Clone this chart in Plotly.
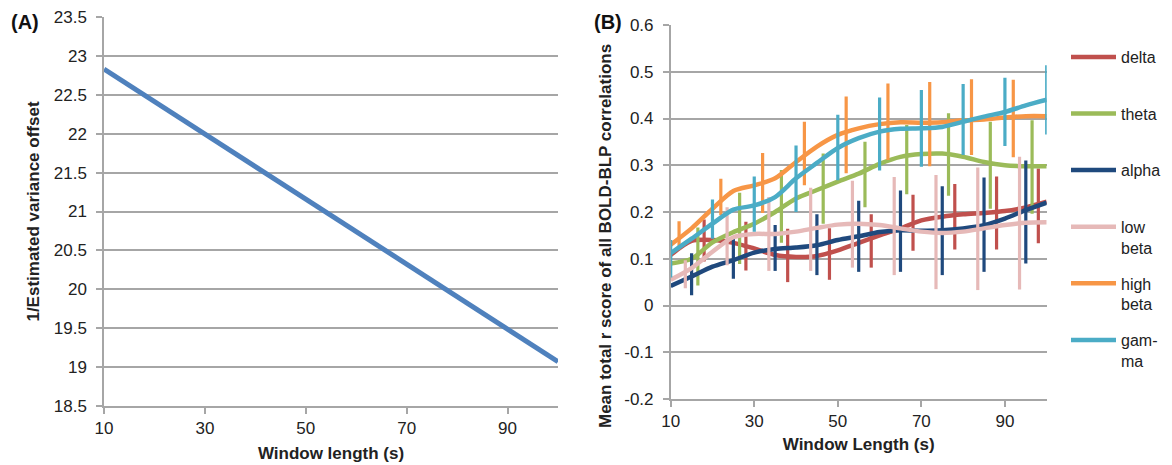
import plotly.graph_objects as go

# ---------------- Panel A data ----------------
a_window = [10, 100]
a_inv_offset = [22.83, 19.07]
a_yticks = [18.5, 19, 19.5, 20, 20.5, 21, 21.5, 22, 22.5, 23, 23.5]
a_yticklabels = ["18.5", "19", "19.5", "20", "20.5", "21", "21.5", "22", "22.5", "23", "23.5"]
x_ticks = [10, 30, 50, 70, 90]

# ---------------- Panel B data ----------------
b_window = [10, 15, 20, 25, 30, 35, 40, 45, 50, 55, 60, 65, 70, 75, 80, 85, 90, 95, 100]
delta = [0.108, 0.138, 0.140, 0.134, 0.122, 0.108, 0.104, 0.106, 0.118, 0.134, 0.150, 0.165, 0.182, 0.190, 0.195, 0.198, 0.202, 0.210, 0.222]
theta = [0.090, 0.100, 0.135, 0.157, 0.175, 0.200, 0.229, 0.247, 0.265, 0.282, 0.303, 0.318, 0.324, 0.325, 0.318, 0.307, 0.300, 0.298, 0.298]
alpha = [0.042, 0.062, 0.083, 0.097, 0.113, 0.121, 0.124, 0.129, 0.140, 0.148, 0.157, 0.161, 0.160, 0.161, 0.165, 0.172, 0.186, 0.204, 0.220]
low_beta = [0.055, 0.080, 0.115, 0.146, 0.153, 0.153, 0.158, 0.166, 0.173, 0.175, 0.172, 0.165, 0.158, 0.155, 0.158, 0.165, 0.172, 0.177, 0.178]
high_beta = [0.130, 0.165, 0.207, 0.245, 0.257, 0.272, 0.307, 0.340, 0.365, 0.379, 0.388, 0.392, 0.391, 0.392, 0.396, 0.398, 0.402, 0.405, 0.405]
gamma = [0.112, 0.143, 0.175, 0.205, 0.214, 0.232, 0.272, 0.305, 0.337, 0.358, 0.372, 0.378, 0.379, 0.382, 0.393, 0.404, 0.414, 0.428, 0.440]

# error bars (drawn at offset window positions)
delta_err_x = [18, 28, 38, 48, 58, 68, 78, 88, 98]
delta_err_c = [0.139, 0.127, 0.107, 0.110, 0.138, 0.177, 0.190, 0.198, 0.213]
delta_err = [0.045, 0.052, 0.057, 0.055, 0.057, 0.060, 0.070, 0.078, 0.080]

theta_err_x = [16.5, 26.5, 36.5, 46.5, 56.5, 66.5, 76.5, 86.5, 96.5]
theta_err_c = [0.105, 0.165, 0.212, 0.250, 0.280, 0.312, 0.323, 0.300, 0.296]
theta_err = [0.062, 0.076, 0.078, 0.075, 0.070, 0.074, 0.088, 0.093, 0.100]

alpha_err_x = [15, 25, 35, 45, 55, 65, 75, 85, 95]
alpha_err_c = [0.067, 0.100, 0.123, 0.130, 0.148, 0.159, 0.160, 0.173, 0.200]
alpha_err = [0.045, 0.043, 0.049, 0.065, 0.076, 0.087, 0.095, 0.101, 0.110]

low_beta_err_x = [13.5, 23.5, 33.5, 43.5, 53.5, 63.5, 73.5, 83.5, 93.5]
low_beta_err_c = [0.067, 0.148, 0.153, 0.163, 0.174, 0.170, 0.157, 0.164, 0.176]
low_beta_err = [0.030, 0.062, 0.079, 0.089, 0.093, 0.105, 0.122, 0.131, 0.142]

high_beta_err_x = [12, 22, 32, 42, 52, 62, 72, 82, 92, 102]
high_beta_err_c = [0.150, 0.232, 0.262, 0.325, 0.365, 0.393, 0.388, 0.403, 0.400, 0.404]
high_beta_err = [0.030, 0.039, 0.064, 0.068, 0.082, 0.082, 0.090, 0.081, 0.083, 0.087]

gamma_err_x = [10, 20, 30, 40, 50, 60, 70, 80, 90, 100]
gamma_err_c = [0.100, 0.185, 0.217, 0.271, 0.338, 0.367, 0.379, 0.398, 0.414, 0.440]
gamma_err = [0.040, 0.042, 0.059, 0.071, 0.070, 0.078, 0.082, 0.076, 0.073, 0.074]

b_yticks = [-0.2, -0.1, 0, 0.1, 0.2, 0.3, 0.4, 0.5, 0.6]
b_yticklabels = ["-0.2", "-0.1", "0", "0.1", "0.2", "0.3", "0.4", "0.5", "0.6"]

series = [
    ("delta", "delta<br> ", delta, delta_err_x, delta_err_c, delta_err, "#C0504D"),
    ("theta", "theta<br> ", theta, theta_err_x, theta_err_c, theta_err, "#9BBB59"),
    ("alpha", "alpha<br> ", alpha, alpha_err_x, alpha_err_c, alpha_err, "#1F497D"),
    ("low beta", "low<br>beta", low_beta, low_beta_err_x, low_beta_err_c, low_beta_err, "#E6B9B8"),
    ("high beta", "high<br>beta", high_beta, high_beta_err_x, high_beta_err_c, high_beta_err, "#F79646"),
    ("gamma", "gam-<br>ma", gamma, gamma_err_x, gamma_err_c, gamma_err, "#4BACC6"),
]

W, H = 1172, 465
OFF = 8  # page body margin of the html page
FONT = "Liberation Sans, Arial, sans-serif"
GRID = "#A6A6A6"

def px_x(p):
    return (p - OFF) / W

def px_y(p):
    return 1 - (p - OFF) / H

fig = go.Figure()

# Panel A
fig.add_trace(go.Scatter(x=a_window, y=a_inv_offset, mode="lines",
                         line=dict(color="#4F81BD", width=5),
                         showlegend=False, xaxis="x", yaxis="y"))

# Panel B
for name, label, vals, ex, ec, ee, col in series:
    fig.add_trace(go.Scatter(
        x=ex, y=ec, mode="markers",
        marker=dict(size=2, color="rgba(0,0,0,0)"),
        error_y=dict(type="data", array=ee, visible=True, color=col, thickness=3.2, width=0),
        showlegend=False, legendgroup=name, cliponaxis=False,
        xaxis="x2", yaxis="y2"))
    fig.add_trace(go.Scatter(
        x=b_window, y=vals, mode="lines", name=label,
        line=dict(color=col, width=4.5, shape="spline", smoothing=0.8),
        legendgroup=name, xaxis="x2", yaxis="y2"))

axis_common = dict(showline=True, linecolor=GRID, linewidth=1.5,
                   ticks="outside", tickcolor=GRID, tickwidth=1.5, ticklen=6,
                   zeroline=False, automargin=False, ticklabeloverflow="allow",
                   tickfont=dict(family=FONT, size=17, color="#222222"))

fig.update_layout(
    width=W, height=H,
    margin=dict(l=0, r=0, t=0, b=0),
    paper_bgcolor="white", plot_bgcolor="white",
    font=dict(family=FONT, color="#222222"),
    xaxis=dict(domain=[px_x(104), px_x(558)], range=[10, 100],
               tickvals=x_ticks, showgrid=False, anchor="y",
               title=dict(text="<b>Window length (s)</b>", font=dict(size=17, family=FONT), standoff=10),
               **axis_common),
    yaxis=dict(domain=[px_y(406), px_y(17)], range=[18.5, 23.5],
               tickvals=a_yticks, ticktext=a_yticklabels,
               showgrid=True, gridcolor=GRID, gridwidth=1.5, anchor="x",
               ticklabelstandoff=6,
               title=dict(text="<b>1/Estimated variance offset</b>", font=dict(size=17, family=FONT), standoff=10),
               **axis_common),
    xaxis2=dict(domain=[px_x(670.7), px_x(1046.7)], range=[10, 100],
                tickvals=x_ticks, showgrid=False, anchor="y2",
                title=dict(text="<b>Window Length (s)</b>", font=dict(size=17, family=FONT), standoff=8),
                **axis_common),
    yaxis2=dict(domain=[px_y(399), px_y(25)], range=[-0.2, 0.6],
                tickvals=b_yticks, ticktext=b_yticklabels,
                showgrid=True, gridcolor=GRID, gridwidth=1.5, anchor="x2",
                ticklabelstandoff=6,
                **axis_common),
    legend=dict(x=px_x(1066), y=px_y(40), xanchor="left", yanchor="top",
                traceorder="grouped", tracegroupgap=12, itemwidth=45,
                valign="top", font=dict(family=FONT, size=16, color="#222222"),
                bgcolor="rgba(0,0,0,0)"),
    annotations=[
        dict(text="<b>(A)</b>", x=px_x(25), y=px_y(22), xref="paper", yref="paper",
             xanchor="center", yanchor="middle",
             showarrow=False, font=dict(size=20, family=FONT, color="#111111")),
        dict(text="<b>(B)</b>", x=px_x(608), y=px_y(22), xref="paper", yref="paper",
             xanchor="center", yanchor="middle",
             showarrow=False, font=dict(size=20, family=FONT, color="#111111")),
        dict(text="<b>Mean total r score of all BOLD-BLP correlations</b>",
             x=px_x(606), y=px_y(236), xref="paper", yref="paper", textangle=-90,
             xanchor="center", yanchor="middle",
             showarrow=False, font=dict(size=17, family=FONT, color="#222222")),
    ],
)

fig.write_html("out.html")
